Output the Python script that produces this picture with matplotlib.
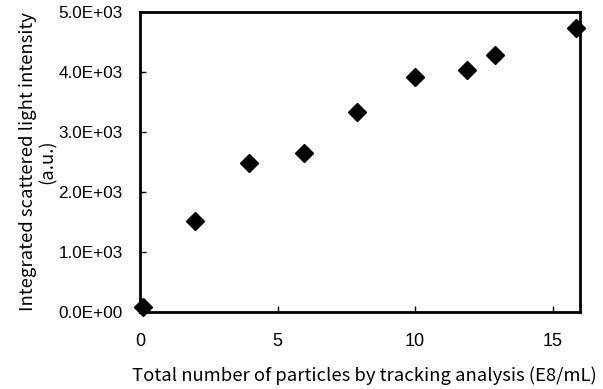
import matplotlib.pyplot as plt
from matplotlib.ticker import FuncFormatter

# data
particles = [0.1, 2.0, 3.97, 5.98, 7.9, 10.0, 11.9, 12.92, 15.85]
intensity = [80, 1520, 2480, 2645, 3335, 3920, 4030, 4280, 4730]

xTicks = [0, 5, 10, 15]
yTicks = [0, 1000, 2000, 3000, 4000, 5000]

plt.rcParams['font.family'] = ['Liberation Sans', 'DejaVu Sans']
labelFont = ['Noto Sans CJK JP', 'DejaVu Sans']

fig = plt.figure(figsize=(6.03, 3.89), dpi=100)
ax = fig.add_axes([140/603, 1 - 312/389, 440/603, 300/389])

ax.plot(particles, intensity, linestyle='none', marker='D', markersize=9.5,
        color='black', clip_on=False, zorder=5)

ax.set_xlim(0, 16)
ax.set_ylim(0, 5000)
ax.set_xticks(xTicks)
ax.set_yticks(yTicks)
ax.yaxis.set_major_formatter(FuncFormatter(lambda v, p: '%.1fE+03' % (v / 1000) if v else '0.0E+00'))

ax.tick_params(direction='in', length=4, width=1)
ax.tick_params(axis='x', pad=15, labelsize=13)
ax.tick_params(axis='y', pad=12.5, labelsize=12.3)
for s in ax.spines.values():
    s.set_linewidth(2)

ax.set_xlabel('Total number of particles by tracking analysis (E8/mL)',
              fontsize=13.3, family=labelFont)
ax.xaxis.set_label_coords(0.509, -0.18)
ax.set_ylabel('Integrated scattered light intensity\n(a.u.)',
              fontsize=13.3, family=labelFont, linespacing=1.1)
ax.yaxis.set_label_coords(-0.19, 0.5)

fig.savefig('out.png', dpi=100)
